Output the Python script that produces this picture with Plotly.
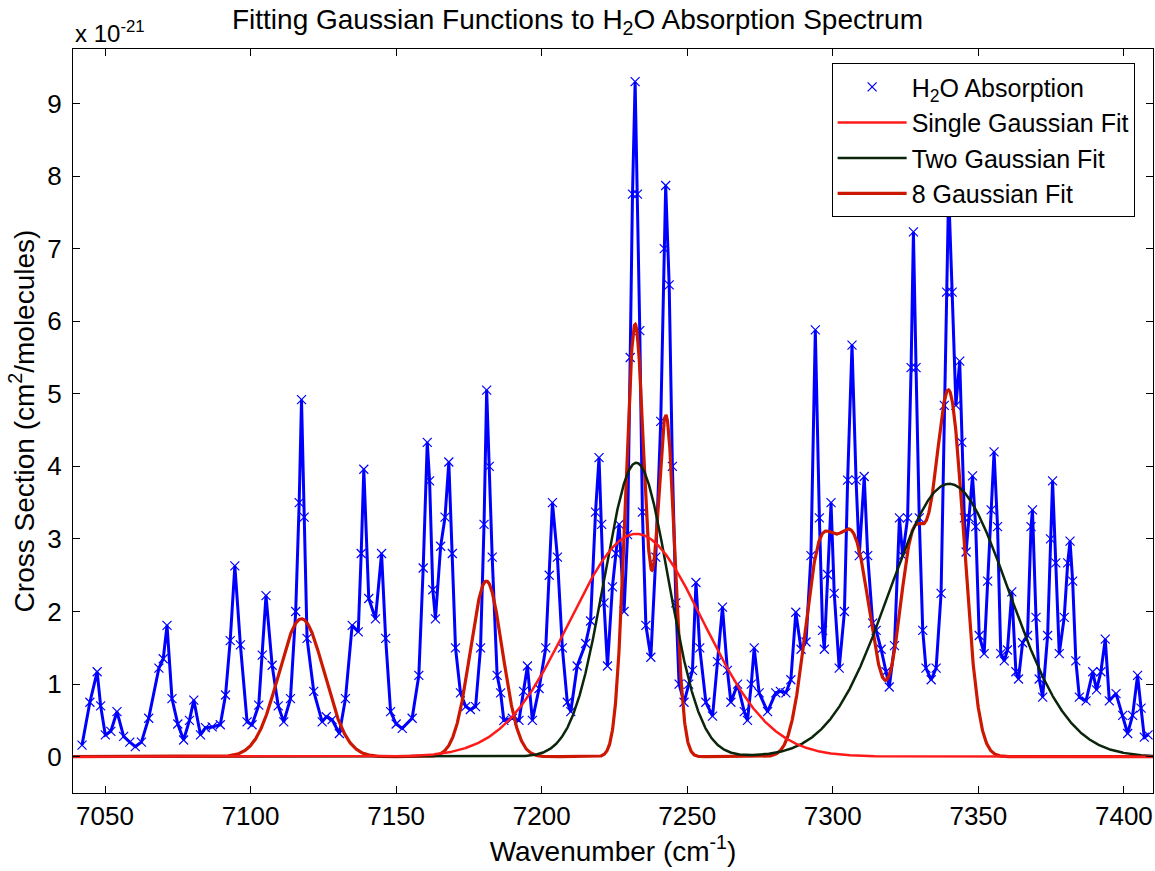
import numpy as np
import plotly.graph_objects as go

# Measured H2O absorption cross section (units of 1e-21 cm^2/molecule)
wavenumber = [
    7042.1, 7044.8, 7047.3, 7048.5, 7050.1, 7052.0, 7054.1, 7056.4, 7058.5, 7060.4,
    7062.5, 7065.0, 7068.5, 7070.0, 7071.3, 7073.0, 7075.0, 7077.0, 7079.0, 7080.5,
    7082.8, 7084.5, 7086.8, 7089.6, 7091.4, 7093.0, 7094.6, 7096.5, 7098.8, 7100.5,
    7102.8, 7104.0, 7105.3, 7107.4, 7109.5, 7111.4, 7113.7, 7115.5, 7116.7, 7117.5,
    7118.4, 7119.4, 7121.7, 7124.6, 7126.0, 7128.0, 7130.5, 7132.6, 7134.9, 7137.0,
    7138.0, 7138.9, 7140.6, 7142.9, 7145.0, 7146.4, 7148.1, 7150.0, 7152.1, 7155.5,
    7157.8, 7159.3, 7160.7, 7161.5, 7162.6, 7163.5, 7165.3, 7166.8, 7168.1, 7169.3,
    7170.4, 7172.1, 7173.9, 7175.5, 7177.3, 7179.0, 7180.2, 7181.1, 7182.0, 7183.0,
    7184.7, 7185.9, 7187.0, 7189.9, 7192.2, 7193.8, 7195.1, 7196.8, 7199.1, 7201.4,
    7202.6, 7203.7, 7205.4, 7207.1, 7208.8, 7210.0, 7212.2, 7215.1, 7216.8, 7218.5,
    7219.7, 7220.6, 7221.4, 7222.6, 7224.3, 7225.5, 7226.6, 7228.3, 7229.5, 7230.4,
    7231.2, 7232.1, 7232.9, 7233.7, 7234.6, 7235.8, 7237.5, 7239.2, 7240.9, 7242.1,
    7242.6, 7243.8, 7244.9, 7246.1, 7247.2, 7248.9, 7250.5, 7251.8, 7253.0, 7254.3,
    7256.4, 7258.7, 7260.4, 7262.1, 7263.8, 7265.0, 7267.3, 7269.6, 7270.7, 7272.0,
    7273.0, 7274.7, 7277.6, 7280.4, 7282.0, 7283.9, 7285.6, 7287.3, 7289.1, 7290.8,
    7292.5, 7294.0, 7295.4, 7296.5, 7297.1, 7298.2, 7299.4, 7300.5, 7302.2, 7304.0,
    7305.1, 7306.6, 7308.0, 7309.1, 7310.8, 7312.0, 7313.7, 7314.9, 7316.6, 7318.3,
    7319.4, 7321.2, 7322.9, 7324.0, 7325.7, 7326.9, 7327.7, 7328.6, 7329.7, 7330.9,
    7332.0, 7333.8, 7335.5, 7337.2, 7338.3, 7339.1, 7339.8, 7341.0, 7342.3, 7343.6,
    7344.3, 7345.2, 7345.8, 7346.9, 7348.0, 7349.1, 7350.3, 7352.0, 7353.2, 7354.4,
    7355.4, 7356.6, 7357.7, 7358.9, 7360.0, 7361.5, 7362.9, 7363.8, 7365.2, 7366.9,
    7368.1, 7368.6, 7369.8, 7370.9, 7372.1, 7373.8, 7374.8, 7375.5, 7376.6, 7377.8,
    7379.5, 7380.7, 7381.5, 7382.4, 7383.5, 7384.7, 7387.0, 7389.3, 7390.6, 7392.1,
    7393.6, 7395.0, 7397.3, 7399.6, 7401.3, 7403.0, 7404.7, 7405.9, 7407.0, 7408.3,
]
cross_section = [
    0.16, 0.75, 1.17, 0.70, 0.30, 0.35, 0.62, 0.28, 0.20, 0.14,
    0.20, 0.53, 1.22, 1.35, 1.81, 0.80, 0.45, 0.23, 0.50, 0.78,
    0.30, 0.40, 0.41, 0.44, 0.85, 1.60, 2.63, 1.54, 0.48, 0.44,
    0.71, 1.40, 2.22, 1.26, 0.70, 0.48, 0.80, 2.00, 3.50, 4.92,
    3.30, 1.63, 0.90, 0.48, 0.55, 0.51, 0.32, 0.80, 1.81, 1.72,
    2.80, 3.96, 2.18, 1.90, 2.80, 1.63, 0.62, 0.45, 0.39, 0.53,
    1.12, 2.60, 4.33, 3.80, 2.30, 1.90, 2.90, 3.30, 4.06, 2.80,
    1.50, 0.88, 0.69, 0.65, 0.69, 1.50, 3.20, 5.05, 4.00, 2.75,
    1.12, 0.88, 0.50, 0.53, 0.50, 0.90, 1.25, 0.50, 0.94, 1.50,
    2.50, 3.50, 2.75, 1.50, 0.75, 0.62, 1.25, 1.56, 1.87, 3.37,
    4.12, 3.20, 2.12, 1.25, 2.34, 2.80, 3.20, 2.00, 3.06, 5.50,
    7.75, 9.30, 7.75, 5.87, 3.37, 1.81, 1.37, 2.75, 4.62, 7.00,
    7.87, 6.50, 4.00, 2.12, 1.00, 0.75, 1.00, 1.19, 2.40, 1.50,
    0.75, 0.56, 1.31, 2.06, 1.19, 0.75, 1.00, 0.62, 0.50, 1.00,
    1.50, 0.88, 0.62, 0.88, 0.90, 0.88, 1.06, 1.99, 1.48, 1.58,
    2.77, 5.88, 3.29, 1.74, 1.48, 2.51, 3.50, 2.25, 1.22, 2.00,
    3.81, 5.67, 3.81, 2.77, 3.86, 2.77, 1.84, 1.74, 1.48, 1.17,
    0.96, 1.53, 3.29, 2.77, 3.29, 5.36, 7.23, 5.36, 3.29, 1.74,
    1.22, 1.06, 1.22, 2.25, 4.84, 6.40, 7.80, 6.40, 4.84, 5.45,
    4.33, 3.29, 2.82, 3.29, 3.87, 3.17, 1.67, 1.42, 2.42, 3.40,
    4.20, 3.17, 1.42, 1.32, 1.47, 2.27, 1.17, 1.07, 1.57, 1.67,
    3.17, 3.40, 1.92, 1.07, 0.82, 1.67, 3.00, 3.80, 2.67, 1.42,
    1.92, 2.67, 2.97, 2.42, 1.32, 0.82, 0.77, 1.17, 0.92, 1.17,
    1.62, 0.77, 0.87, 0.57, 0.32, 0.57, 1.12, 0.67, 0.27, 0.30,
]

# Gaussian fit parameters: amplitude (1e-21), centre (cm^-1), standard deviation (cm^-1)
single_amp = [3.07]
single_center = [7232.5]
single_sigma = [23.0]

two_amp = [4.05, 3.76]
two_center = [7232.5, 7340.0]
two_sigma = [11.0, 20.5]

eight_amp = [1.90, 2.42, 5.95, 4.67, 2.45, 2.95, 2.90, 4.95]
eight_center = [7117.5, 7181.0, 7232.1, 7242.7, 7295.0, 7307.0, 7327.5, 7340.0]
eight_sigma = [7.8, 5.5, 3.3, 3.0, 5.0, 6.3, 4.8, 5.0]

x_range = [7039, 7410]


def gaussian_sum(x, amps, centers, sigmas):
    y = np.zeros_like(x)
    for a, c, s in zip(amps, centers, sigmas):
        y += a * np.exp(-((x - c) ** 2) / (2.0 * s ** 2))
    return y


# fitted models evaluated across the full plotted window
x_fit = np.arange(x_range[0], x_range[1] + 0.01, 0.1)
y_single = gaussian_sum(x_fit, single_amp, single_center, single_sigma)
y_two = gaussian_sum(x_fit, two_amp, two_center, two_sigma)
y_eight = gaussian_sum(x_fit, eight_amp, eight_center, eight_sigma)

BLUE = "#0000ff"
RED = "#ff1a1a"
DARK_GREEN = "#0b250b"
DARK_RED = "#cc1800"
FONT = "Liberation Sans, Arial, sans-serif"

fig = go.Figure()

# Spectrum band (connecting trace under the markers)
fig.add_trace(go.Scatter(
    x=wavenumber, y=cross_section, mode="lines",
    line=dict(color=BLUE, width=3), showlegend=False, hoverinfo="skip",
))
fig.add_trace(go.Scatter(
    x=wavenumber, y=cross_section, mode="markers",
    name="H<sub>2</sub>O Absorption", legendrank=1,
    marker=dict(symbol="x-thin", size=9, color=BLUE, line=dict(color=BLUE, width=1.2)),
))
fig.add_trace(go.Scatter(
    x=x_fit, y=y_eight, mode="lines", name="8 Gaussian Fit", legendrank=4,
    line=dict(color=DARK_RED, width=3.2),
))
fig.add_trace(go.Scatter(
    x=x_fit, y=y_two, mode="lines", name="Two Gaussian Fit", legendrank=3,
    line=dict(color=DARK_GREEN, width=2.5),
))
fig.add_trace(go.Scatter(
    x=x_fit, y=y_single, mode="lines", name="Single Gaussian Fit", legendrank=2,
    line=dict(color=RED, width=2.5),
))

axis_common = dict(
    showline=True, linecolor="black", linewidth=1, mirror="ticks",
    ticks="inside", ticklen=7, tickwidth=1, tickcolor="black",
    showgrid=False, zeroline=False,
    tickfont=dict(family=FONT, size=26, color="black"),
)

fig.update_layout(
    width=1155, height=871,
    margin=dict(l=73, r=2, t=49, b=78),
    paper_bgcolor="white", plot_bgcolor="white",
    font=dict(family=FONT, color="black"),
    title=dict(
        text="Fitting Gaussian Functions to H<sub>2</sub>O Absorption Spectrum",
        x=0.5, xref="container", xanchor="center",
        y=1 - 19 / 871, yref="container", yanchor="middle",
        font=dict(family=FONT, size=28, color="black"),
    ),
    xaxis=dict(
        range=x_range, tickmode="array",
        tickvals=[7050, 7100, 7150, 7200, 7250, 7300, 7350, 7400],
        title=dict(text="Wavenumber (cm<sup>-1</sup>)", standoff=8,
                   font=dict(family=FONT, size=28, color="black")),
        **axis_common,
    ),
    yaxis=dict(
        range=[-0.5, 9.75], tickmode="array", tickvals=list(range(10)),
        ticklabelstandoff=5,
        title=dict(text="Cross Section (cm<sup>2</sup>/molecules)", standoff=4,
                   font=dict(family=FONT, size=28, color="black")),
        **axis_common,
    ),
    legend=dict(
        x=0.983, xanchor="right", y=0.981, yanchor="top",
        bgcolor="white", bordercolor="black", borderwidth=1,
        font=dict(family=FONT, size=25, color="black"),
        tracegroupgap=2, itemwidth=69,
    ),
    annotations=[dict(
        text="x 10<sup>-21</sup>", xref="paper", yref="paper",
        x=0, y=1.0, xanchor="left", yanchor="bottom", yshift=0,
        showarrow=False, font=dict(family=FONT, size=24, color="black"),
    )],
)

fig.write_html("out.html")
